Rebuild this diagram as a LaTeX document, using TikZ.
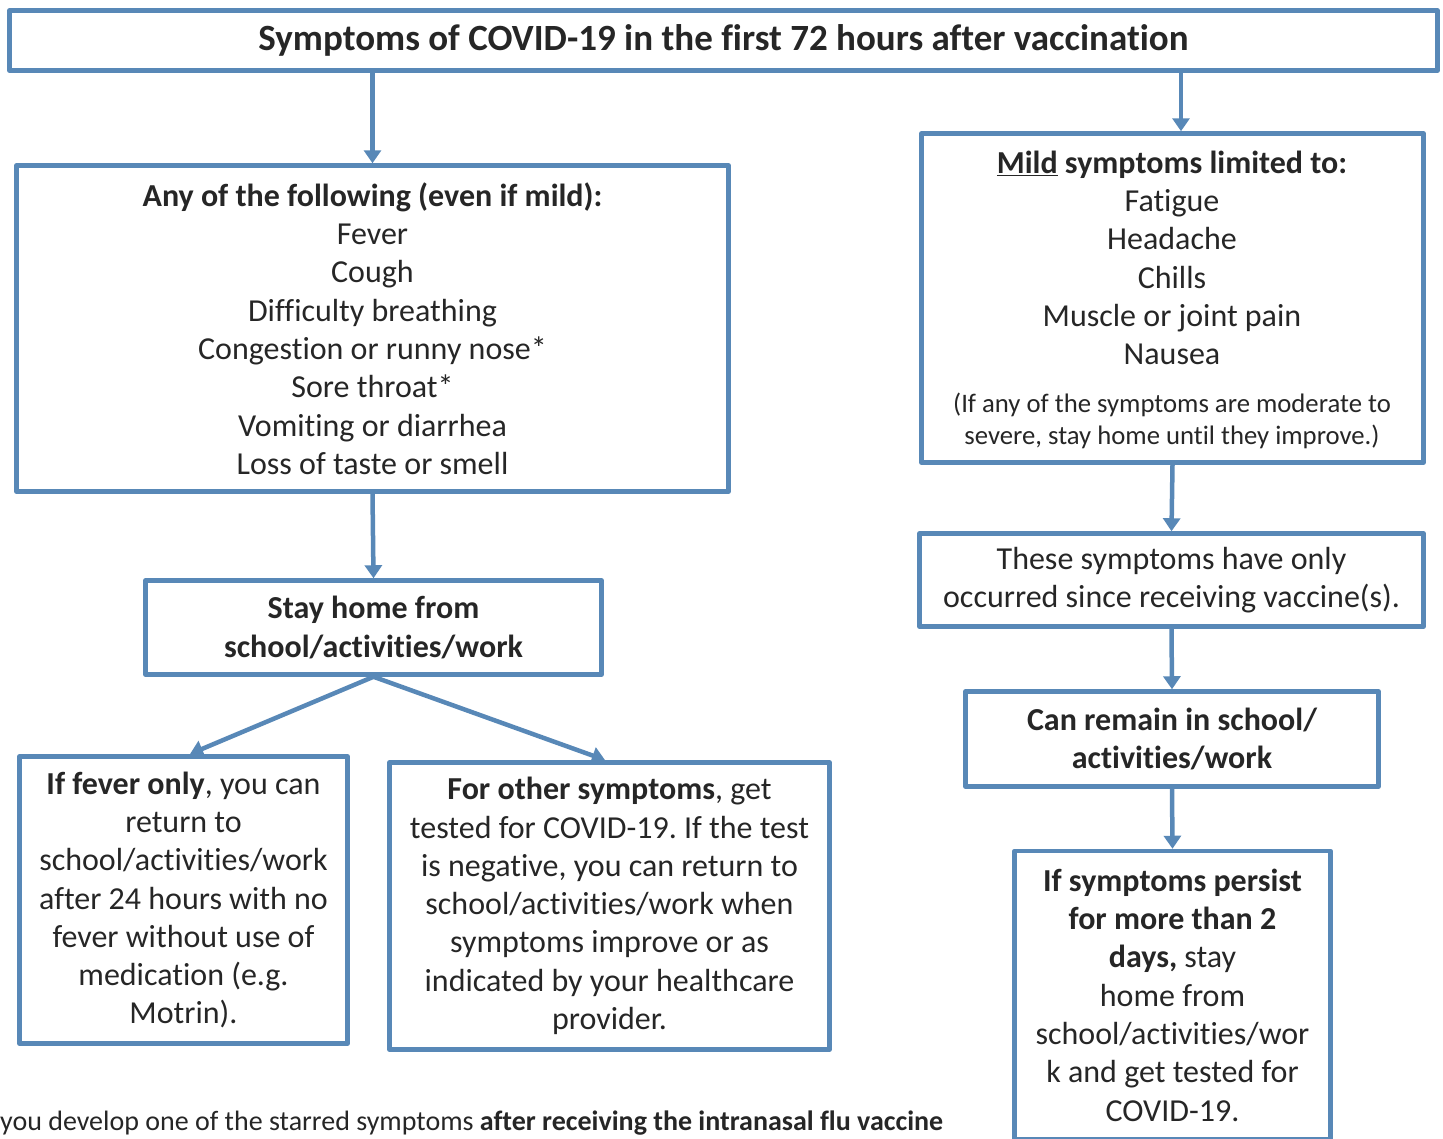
\documentclass[tikz,border=0pt]{standalone}
\usepackage{fontspec}
\setmainfont[Ligatures=NoCommon]{Carlito}
\usetikzlibrary{arrows.meta}
\definecolor{bord}{RGB}{88,136,183}
\definecolor{ink}{RGB}{38,38,38}
\newcommand\myBody{\fontsize{32}{38.3}\selectfont}
\newcommand\myTitle{\fontsize{37}{40}\selectfont\bfseries}
\newcommand\myNote{\fontsize{26.7}{32}\selectfont}
\newcommand\myFoot{\fontsize{28}{32}\selectfont}
\frenchspacing
\begin{document}
\begin{tikzpicture}[x=1pt,y=-1pt,
  box/.style={draw=bord, line width=4.5pt, line join=round, align=center, text=ink, inner sep=0pt, font=\myBody},
  txt/.style={align=center, text=ink, inner sep=0pt, font=\myBody},
  arr/.style={draw=bord, line width=4.5pt, -{Triangle[width=17pt,length=13pt]}},
]
\useasboundingbox (0,0) rectangle (1443,1138);
\clip (0,0) rectangle (1443,1138);

\node[box, font=\myTitle, minimum width=1428pt, minimum height=60pt] (T) at (723.5,40.5)
  {Symptoms of COVID-19 in the first 72 hours after vaccination};

\node[box, minimum width=712pt, minimum height=326pt] (A) at (372.5,328.5)
  {\textbf{Any of the following (even if mild):}\\Fever\\Cough\\Difficulty breathing\\Congestion or runny nose*\\Sore throat*\\Vomiting or diarrhea\\Loss of taste or smell};

\node[box, minimum width=502pt, minimum height=329pt] (B) at (1172.5,298) {};
\node[txt] (Btxt) at (1172,258)
  {\textbf{\underline{Mild} symptoms limited to:}\\Fatigue\\Headache\\Chills\\Muscle or joint pain\\Nausea};
\node[txt, font=\myNote] (Bnote) at (1172,421)
  {(If any of the symptoms are moderate to\\severe, stay home until they improve.)};

\node[box, font=\myBody\bfseries, minimum width=456pt, minimum height=94pt] (S) at (373.5,627.5)
  {Stay home from\\school/activities/work};

\node[box, minimum width=504pt, minimum height=93pt] (H) at (1171.5,580)
  {These symptoms have only\\occurred since receiving vaccine(s).};

\node[box, font=\myBody\bfseries, minimum width=413pt, minimum height=95pt] (C) at (1172,739)
  {Can remain in school/\\activities/work};

\node[box, minimum width=328pt, minimum height=287pt] (F) at (183.5,900)
  {\textbf{If fever only}, you can\\return to\\school/activities/work\\after 24 hours with no\\fever without use of\\medication (e.g.\\Motrin).};

\node[box, minimum width=440pt, minimum height=287pt] (O) at (609.5,906)
  {\textbf{For other symptoms}, get\\tested for COVID-19. If the test\\is negative, you can return to\\school/activities/work when\\symptoms improve or as\\indicated by your healthcare\\provider.};

\node[box, minimum width=316pt, minimum height=288pt] (P) at (1172.5,995)
  {\textbf{If symptoms persist}\\\textbf{for more than 2}\\\textbf{days,} stay\\home from\\school/activities/wor\\k and get tested for\\COVID-19.};

\node[txt, font=\myFoot, anchor=west] (foot) at (0,1123)
  {you develop one of the starred symptoms \textbf{after receiving the intranasal flu vaccine}};

\coordinate (t2) at (1181,70);
\coordinate (fT) at (190,754);
\coordinate (oT) at (605,760);

\draw[arr] (T.south -| A.north) -- (A.north);
\draw[arr] (t2) -- (t2 |- B.north);
\draw[arr] (A.south) -- (S.north);
\draw[arr] (B.south) -- (H.north);
\draw[arr] (H.south) -- (C.north);
\draw[arr] (C.south) -- (P.north);
\draw[arr] (S.south) -- (fT);
\draw[arr] (S.south) -- (oT);
\end{tikzpicture}
\end{document}
